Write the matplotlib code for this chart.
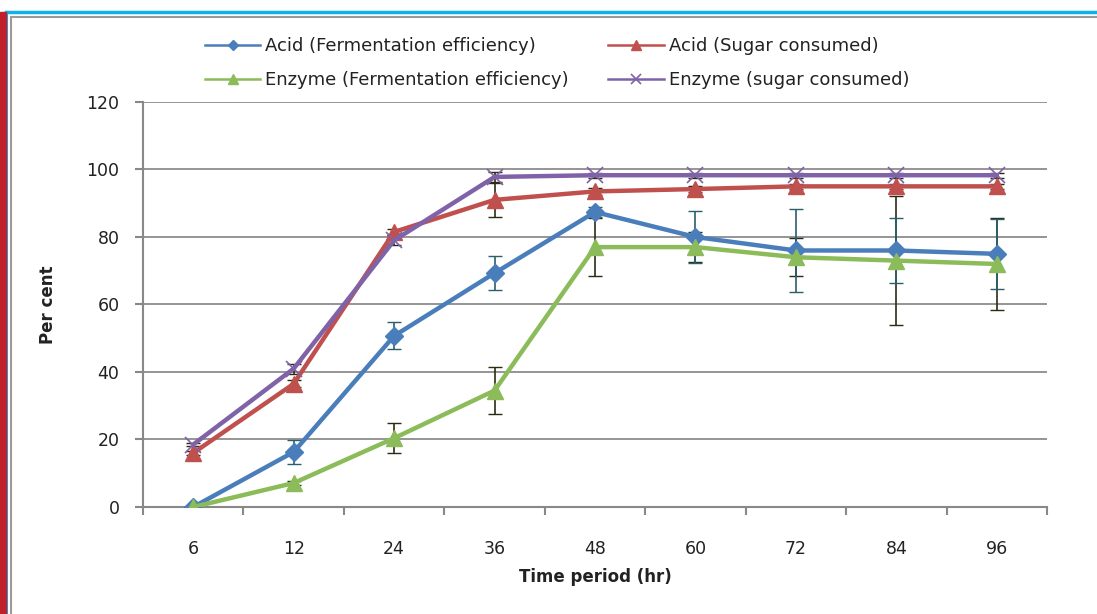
import matplotlib
matplotlib.use("Agg")
import matplotlib.pyplot as plt
import matplotlib.patches as patches
import numpy as np

plt.rcParams['font.family'] = ['DejaVu Sans']

hours = ['6', '12', '24', '36', '48', '60', '72', '84', '96']

acid_fe = [0, 16.3, 50.7, 69.3, 87.4, 80.0, 76.0, 76.0, 75.0]
acid_fe_err = [0, 3.5, 4.0, 5.0, 1.5, 7.8, 12.3, 9.5, 10.4]

acid_sugar = [16.0, 36.5, 81.5, 91.0, 93.5, 94.2, 95.0, 95.0, 95.0]
acid_sugar_err = [0.5, 1.0, 1.0, 5.0, 1.0, 1.0, 0.8, 0.8, 0.8]

enz_fe = [0, 7.1, 20.4, 34.5, 77.0, 77.0, 74.0, 73.0, 72.0]
enz_fe_err = [0, 0.5, 4.4, 7.0, 8.5, 4.5, 5.7, 19.0, 13.7]

enz_sugar = [18.5, 41.0, 79.0, 97.8, 98.3, 98.3, 98.3, 98.3, 98.3]
enz_sugar_err = [0.5, 1.5, 1.5, 1.5, 0.8, 0.8, 0.8, 0.8, 0.8]

fig = plt.figure(figsize=(10.97, 6.14), dpi=100)
ax = fig.add_axes([0.1304, 0.1743, 0.8240, 0.6596])

x = np.arange(len(hours))
err_dark = '#2b2b14'
err_teal = '#2a5f6e'

ax.errorbar(x, enz_sugar, yerr=enz_sugar_err, fmt='none', ecolor=err_dark, elinewidth=1.2, capsize=5, zorder=2)
ax.errorbar(x, acid_sugar, yerr=acid_sugar_err, fmt='none', ecolor=err_dark, elinewidth=1.2, capsize=5, zorder=2)
ax.errorbar(x, enz_fe, yerr=enz_fe_err, fmt='none', ecolor=err_dark, elinewidth=1.2, capsize=5, zorder=2)
ax.errorbar(x, acid_fe, yerr=acid_fe_err, fmt='none', ecolor=err_teal, elinewidth=1.2, capsize=5, zorder=2)

l1, = ax.plot(x, acid_fe, '-D', color='#4a7ebb', lw=3.2, ms=9, zorder=3,
              label='Acid (Fermentation efficiency)')
l2, = ax.plot(x, acid_sugar, '-^', color='#c0504d', lw=3.2, ms=11, zorder=3,
              label='Acid (Sugar consumed)')
l3, = ax.plot(x, enz_fe, '-^', color='#8cbb5a', lw=3.2, ms=11, zorder=3,
              label='Enzyme (Fermentation efficiency)')
l4, = ax.plot(x, enz_sugar, '-x', color='#7f62a8', lw=3.2, ms=11, mew=1.2, zorder=3,
              label='Enzyme (sugar consumed)')

ax.set_xlim(-0.5, 8.5)
ax.set_ylim(0, 120)
ax.set_yticks(range(0, 121, 20))
ax.set_xticks(x)
ax.set_xticklabels(hours)
ax.set_xticks(np.arange(-0.5, 9, 1), minor=True)
ax.tick_params(axis='x', which='major', length=0, pad=24, labelsize=12.5, colors='#222222')
ax.tick_params(axis='x', which='minor', length=6, direction='out', color='#888888', width=1.5)
ax.tick_params(axis='y', length=6, direction='out', color='#888888', width=1.5, pad=11,
               labelsize=12.5, labelcolor='#222222')

ax.grid(axis='y', color='#8c8c8c', lw=1.3)
ax.set_axisbelow(True)
for s in ['top', 'right']:
    ax.spines[s].set_visible(False)
for s in ['left', 'bottom']:
    ax.spines[s].set_color('#888888')
    ax.spines[s].set_linewidth(1.5)

ax.set_xlabel('Time period (hr)', fontsize=12, fontweight='bold', color='#222222', labelpad=7)
ax.set_ylabel('Per cent', fontsize=12, fontweight='bold', color='#222222', labelpad=21)

leg = fig.legend(handles=[l1, l3, l2, l4], ncol=2, loc='upper left',
                 bbox_to_anchor=(205 / 1097, 1 - 37 / 614), bbox_transform=fig.transFigure,
                 frameon=False, fontsize=13, handlelength=3.05, columnspacing=2.2,
                 handletextpad=0.28, labelspacing=0.9, borderpad=0, borderaxespad=0,
                 markerscale=0.6)
for t in leg.get_texts():
    t.set_color('#222222')
for h in leg.legend_handles:
    h.set_linewidth(1.8)

# outer frame lines
fig.patches.append(patches.Rectangle((0, 0), 6 / 1097, 1 - 12 / 614, transform=fig.transFigure,
                                     color='#c0202a', zorder=10))
fig.add_artist(plt.Line2D([6 / 1097, 1], [1 - 12 / 614, 1 - 12 / 614], transform=fig.transFigure,
                          color='#10b0e8', lw=2.5))
fig.add_artist(plt.Line2D([7 / 1097, 7 / 1097], [0, 1 - 12 / 614], transform=fig.transFigure,
                          color='#10b0e8', lw=1.5))
fig.add_artist(plt.Line2D([11 / 1097, 1], [1 - 17 / 614, 1 - 17 / 614], transform=fig.transFigure,
                          color='#9a9a9a', lw=1.5))
fig.add_artist(plt.Line2D([11 / 1097, 11 / 1097], [0, 1 - 17 / 614], transform=fig.transFigure,
                          color='#9a9a9a', lw=1.5))

fig.savefig('out.png', dpi=100)
